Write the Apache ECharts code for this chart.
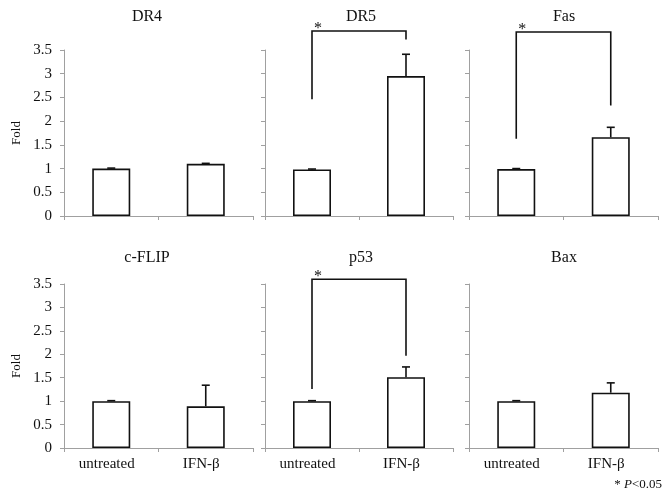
<!DOCTYPE html>
<html><head><meta charset="utf-8">
<script src="https://cdn.jsdelivr.net/npm/echarts@6/dist/echarts.min.js"></script>
<style>html,body{margin:0;padding:0;background:#fff}#c{width:663px;height:496px}</style>
</head><body><div id="c"></div>
<script>
const categories = ['untreated', 'IFN-β'];
const titles = ['DR4', 'DR5', 'Fas', 'c-FLIP', 'p53', 'Bax'];
const dr4 = [1.0, 1.1];    const dr4Err = [0.01, 0.01];
const dr5 = [0.98, 2.95];  const dr5Err = [0.01, 0.46];
const fas = [0.99, 1.66];  const fasErr = [0.01, 0.21];
const cflip = [1.0, 0.89]; const cflipErr = [0.01, 0.45];
const p53 = [1.0, 1.51];   const p53Err = [0.01, 0.22];
const bax = [1.0, 1.18];   const baxErr = [0.01, 0.21];
// significance brackets: [left bottom, right bottom, top]
const dr5Bracket = [2.46, 3.72, 3.9];
const fasBracket = [1.63, 2.33, 3.88];
const p53Bracket = [1.26, 1.97, 3.6];
const yMin = 0, yMax = 3.5, yStep = 0.5;

const values = [dr4, dr5, fas, cflip, p53, bax];
const errs = [dr4Err, dr5Err, fasErr, cflipErr, p53Err, baxErr];
const brackets = [null, dr5Bracket, fasBracket, null, p53Bracket, null];

const lefts = [64, 265, 469], widths = [189, 188, 189];
const tops = [50, 284], heights = [166, 164];
const titleX = [142, 356, 559], titleY = [4, 245];
const serif = '"Liberation Serif", "DejaVu Serif", serif';
const axisGray = '#a0a0a0';

const grid = [], xAxis = [], yAxis = [], series = [], title = [];
for (let i = 0; i < 6; i++) {
  const r = Math.floor(i / 3), c = i % 3;
  grid.push({left: lefts[c], width: widths[c], top: tops[r], height: heights[r]});
  title.push({text: titles[i], left: titleX[c], top: titleY[r], textAlign: 'center',
    textStyle: {fontFamily: serif, fontSize: 16, fontWeight: 'normal', color: '#111'}});
  xAxis.push({type: 'category', gridIndex: i, data: categories, boundaryGap: true,
    axisLine: {lineStyle: {color: axisGray, width: 1}},
    axisTick: {show: true, length: 4, lineStyle: {color: axisGray}},
    axisLabel: {show: r === 1, fontFamily: serif, fontSize: 15, color: '#111', margin: 9,
      padding: [0, 9, 0, 0]}});
  yAxis.push({type: 'value', gridIndex: i, min: yMin, max: yMax, interval: yStep,
    name: c === 0 ? 'Fold' : '', nameLocation: 'middle', nameGap: 41,
    nameTextStyle: {fontFamily: serif, fontSize: 13, color: '#111'},
    axisLine: {show: true, lineStyle: {color: axisGray, width: 1}},
    axisTick: {show: true, length: 4, lineStyle: {color: axisGray}},
    splitLine: {show: false},
    axisLabel: {show: c === 0, fontFamily: serif, fontSize: 15, color: '#111', margin: 12}});
  series.push({type: 'bar', xAxisIndex: i, yAxisIndex: i, data: values[i], barWidth: 38,
    itemStyle: {color: '#fff', borderColor: '#111', borderWidth: 1.6}, silent: true});
  series.push({type: 'custom', xAxisIndex: i, yAxisIndex: i, z: 5,
    data: values[i].map((v, k) => [k, v, errs[i][k]]),
    renderItem: function (params, api) {
      const x = api.value(0), v = api.value(1), e = api.value(2);
      const p0 = api.coord([x, v]), p1 = api.coord([x, v + e]);
      const st = {stroke: '#111', lineWidth: 1.6};
      return {type: 'group', children: [
        {type: 'line', shape: {x1: p0[0], y1: p0[1], x2: p1[0], y2: p1[1]}, style: st},
        {type: 'line', shape: {x1: p1[0] - 4, y1: p1[1], x2: p1[0] + 4, y2: p1[1]}, style: st}
      ]};
    }});
  if (brackets[i]) {
    series.push({type: 'custom', xAxisIndex: i, yAxisIndex: i, z: 5, clip: false,
      data: [brackets[i]],
      renderItem: function (params, api) {
        const l = api.value(0), rr = api.value(1), t = api.value(2);
        const a = api.coord([0, l]), b = api.coord([0, t]), cc = api.coord([1, t]), d = api.coord([1, rr]);
        return {type: 'group', children: [
          {type: 'polyline', shape: {points: [a, b, cc, d]}, style: {stroke: '#111', lineWidth: 1.6, fill: null}},
          {type: 'text', x: b[0] + 6, y: b[1] - 2.5, style: {text: '*', fontFamily: serif, fontSize: 16,
            fill: '#111', textAlign: 'center', textVerticalAlign: 'middle'}}
        ]};
      }});
  }
}

const chart = echarts.init(document.getElementById('c'), null, {renderer: 'canvas'});
chart.setOption({
  animation: false,
  backgroundColor: '#fff',
  title: title,
  grid: grid, xAxis: xAxis, yAxis: yAxis, series: series,
  graphic: [{type: 'text', right: 1, top: 478, style: {
    text: '* {i|P}<0.05', fontFamily: serif, fontSize: 13, fill: '#111',
    rich: {i: {fontStyle: 'italic', fontFamily: serif, fontSize: 13}}}}]
});
</script></body></html>
